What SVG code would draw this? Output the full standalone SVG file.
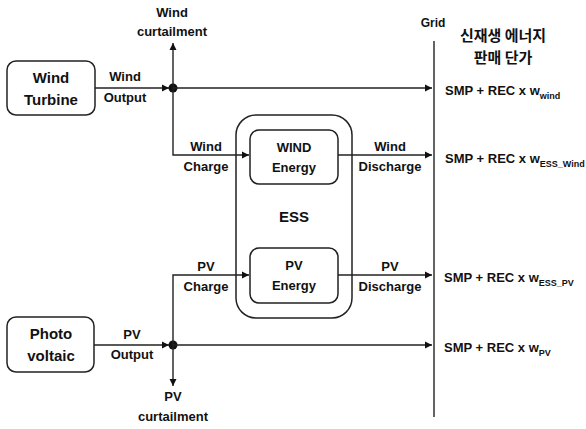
<svg xmlns="http://www.w3.org/2000/svg" width="586" height="429" viewBox="0 0 586 429">
<defs>
<marker id="ah" markerWidth="8" markerHeight="8" refX="7" refY="4" orient="auto" markerUnits="userSpaceOnUse">
<path d="M0,0.5 L7,4 L0,7.5 Z" fill="#111"/>
</marker>
</defs>
<style>
text{font-family:"Liberation Sans",Arial,sans-serif;font-weight:bold;fill:#111;}
.n{font-size:15px;text-anchor:middle;}
.l{font-size:13px;text-anchor:middle;}
.f{font-size:13px;}
.s{font-size:9px;}
.k{font-family:"Noto Sans CJK KR",sans-serif;font-size:15px;text-anchor:middle;}
.box{fill:#fff;stroke:#222;stroke-width:1.5;}
.c{fill:none;stroke:#222;stroke-width:1.4;}
</style>
<rect width="586" height="429" fill="#fff"/>
<g id="wind-turbine"><rect class="box" x="7" y="61" width="88" height="54" rx="9"/><text class="n" x="51" y="83">Wind</text><text class="n" x="51" y="105">Turbine</text></g>
<g id="photovoltaic"><rect class="box" x="7" y="317" width="87" height="55" rx="9"/><text class="n" x="51" y="339">Photo</text><text class="n" x="51" y="361">voltaic</text></g>
<g id="ess"><rect class="box" x="236" y="115" width="116" height="203" rx="20"/><text class="n" x="294" y="222">ESS</text></g>
<g id="wind-energy"><rect class="box" x="250" y="130" width="88" height="54" rx="9"/><text class="l" x="294" y="152">WIND</text><text class="l" x="294" y="172">Energy</text></g>
<g id="pv-energy"><rect class="box" x="250" y="248" width="88" height="55" rx="9"/><text class="l" x="294" y="270">PV</text><text class="l" x="294" y="290">Energy</text></g>
<g id="grid"><line class="c" x1="434" y1="41" x2="434" y2="417"/><text class="l" x="433" y="27" style="font-size:12px">Grid</text>
<text class="k" x="503" y="41">신재생 에너지</text><text class="k" x="503" y="63">판매 단가</text></g>
<g id="connectors">
<line class="c" x1="95" y1="88" x2="169" y2="88" marker-end="url(#ah)"/>
<circle cx="173" cy="88" r="4.5" fill="#111"/>
<line class="c" x1="173" y1="88" x2="173" y2="43" marker-end="url(#ah)"/>
<line class="c" x1="173" y1="88" x2="432" y2="88" marker-end="url(#ah)"/>
<polyline class="c" points="173,88 173,155 249,155" marker-end="url(#ah)"/>
<line class="c" x1="338" y1="155" x2="432" y2="155" marker-end="url(#ah)"/>
<line class="c" x1="94" y1="345" x2="169" y2="345" marker-end="url(#ah)"/>
<circle cx="173" cy="345" r="4.5" fill="#111"/>
<polyline class="c" points="173,345 173,275 249,275" marker-end="url(#ah)"/>
<line class="c" x1="173" y1="345" x2="173" y2="386" marker-end="url(#ah)"/>
<line class="c" x1="173" y1="345" x2="432" y2="345" marker-end="url(#ah)"/>
<line class="c" x1="338" y1="275" x2="432" y2="275" marker-end="url(#ah)"/>
</g>
<g id="labels">
<text class="l" x="172" y="17">Wind</text><text class="l" x="172" y="36">curtailment</text>
<text class="l" x="125" y="81">Wind</text><text class="l" x="125" y="102">Output</text>
<text class="l" x="206" y="151">Wind</text><text class="l" x="206" y="171">Charge</text>
<text class="l" x="390" y="151">Wind</text><text class="l" x="390" y="171">Discharge</text>
<text class="l" x="206" y="271">PV</text><text class="l" x="206" y="291">Charge</text>
<text class="l" x="390" y="271">PV</text><text class="l" x="390" y="291">Discharge</text>
<text class="l" x="132" y="339">PV</text><text class="l" x="132" y="359">Output</text>
<text class="l" x="173" y="401">PV</text><text class="l" x="173" y="421">curtailment</text>
<text class="f" x="445" y="95">SMP + REC x w<tspan class="s" dy="4">wind</tspan></text>
<text class="f" x="445" y="163">SMP + REC x w<tspan class="s" dy="4">ESS_Wind</tspan></text>
<text class="f" x="444" y="282">SMP + REC x w<tspan class="s" dy="4">ESS_PV</tspan></text>
<text class="f" x="444" y="352">SMP + REC x w<tspan class="s" dy="4">PV</tspan></text>
</g>
</svg>
